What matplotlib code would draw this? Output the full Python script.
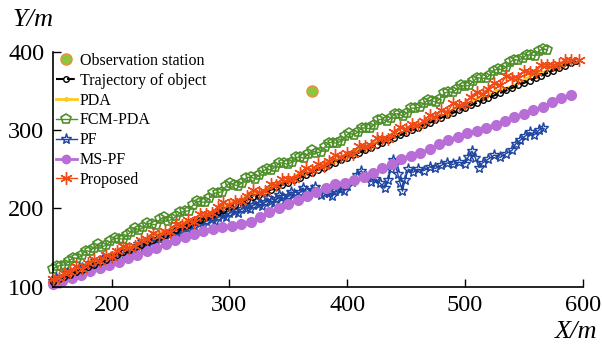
import numpy as np
import matplotlib.pyplot as plt

# observation station
station_x = [370]
station_y = [350]

# trajectory of object (sampled every 5 m in x)
traj_x = list(range(150, 595, 5)) + [594]
traj_y = [106.0, 109.2, 112.4, 115.5, 118.7, 121.9, 125.1, 128.2, 131.4, 134.6,
          137.8, 140.9, 144.1, 147.3, 150.5, 153.6, 156.8, 160.0, 163.2, 166.3,
          169.5, 172.7, 175.9, 179.0, 182.2, 185.4, 188.6, 191.7, 194.9, 198.1,
          201.3, 204.4, 207.6, 210.8, 214.0, 217.1, 220.3, 223.5, 226.7, 229.8,
          233.0, 236.2, 239.4, 242.5, 245.7, 248.9, 252.1, 255.2, 258.4, 261.6,
          264.8, 267.9, 271.1, 274.3, 277.5, 280.6, 283.8, 287.0, 290.2, 293.4,
          296.5, 299.7, 302.9, 306.1, 309.2, 312.4, 315.6, 318.8, 321.9, 325.1,
          328.3, 331.5, 334.6, 337.8, 341.0, 344.2, 347.3, 350.5, 353.7, 356.9,
          360.0, 363.2, 366.4, 369.6, 372.7, 375.9, 379.1, 382.3, 385.4, 388.0]

# PDA
pda_x = list(range(150, 591, 8))
pda_y = [109, 112, 120, 123, 131, 132, 140, 148, 149, 156, 158, 167, 170, 174,
         183, 185, 188, 196, 200, 208, 211, 219, 220, 227, 229, 236, 243, 245,
         252, 259, 261, 265, 274, 276, 283, 287, 295, 296, 303, 305, 314, 317,
         321, 331, 333, 339, 342, 350, 353, 356, 364, 371, 373, 380, 382, 388]

# FCM-PDA
fcm_x = [150, 153.5, 157, 160.5, 164, 167.5, 171, 174.5, 178, 181.5, 185, 188.5,
         192, 195.5, 199, 202.5, 206, 209.5, 213, 216.5, 220, 223.5, 227, 230.5,
         234, 237.5, 241, 244.5, 248, 251.5, 255, 258.5, 262, 265.5, 269, 272.5,
         276, 279.5, 283, 286.5, 290, 293.5, 297, 300.5, 304, 307.5, 311, 314.5,
         318, 321.5, 325, 328.5, 332, 335.5, 339, 342.5, 346, 349.5, 353, 356.5,
         360, 363.5, 367, 370.5, 374, 377.5, 381, 384.5, 388, 391.5, 395, 398.5,
         402, 405.5, 409, 412.5, 416, 419.5, 423, 426.5, 430, 433.5, 437, 440.5,
         444, 447.5, 451, 454.5, 458, 461.5, 465, 468.5, 472, 475.5, 479, 482.5,
         486, 489.5, 493, 496.5, 500, 503.5, 507, 510.5, 514, 517.5, 521, 524.5,
         528, 531.5, 535, 538.5, 542, 545.5, 549, 552.5, 556, 559.5, 563, 566.5,
         570]
fcm_y = [122, 126, 127, 128, 133, 137, 136, 140, 146, 145, 150, 154,
         151, 153, 158, 162, 161, 161, 166, 170, 175, 172, 176, 181,
         180, 179, 186, 189, 184, 186, 190, 195, 196, 197, 204, 209,
         208, 208, 213, 219, 220, 221, 228, 233, 230, 229, 233, 239,
         240, 238, 242, 248, 250, 249, 253, 258, 258, 256, 259, 265,
         265, 264, 270, 274, 271, 272, 278, 284, 284, 283, 286, 292,
         296, 294, 297, 303, 302, 302, 307, 313, 314, 311, 315, 321,
         320, 318, 322, 328, 328, 329, 334, 338, 337, 336, 340, 347,
         349, 348, 352, 357, 356, 357, 362, 367, 366, 366, 370, 376,
         378, 377, 380, 387, 390, 389, 392, 396, 396, 395, 401, 404,
         402]

# PF
pf_x = [150, 152.5, 155, 157.5, 160, 162.5, 165, 167.5, 170, 172.5, 175, 177.5,
        180, 182.5, 185, 187.5, 190, 192.5, 195, 197.5, 200, 202.5, 205, 207.5,
        210, 212.5, 215, 217.5, 220, 222.5, 225, 227.5, 230, 232.5, 235, 237.5,
        240, 242.5, 245, 247.5, 250, 252.5, 255, 257.5, 260, 262.5, 265, 267.5,
        270, 272.5, 275, 277.5, 280, 282.5, 285, 287.5, 290, 292.5, 295, 297.5,
        300, 302.5, 305, 307.5, 310, 312.5, 315, 317.5, 320, 322.5, 325, 327.5,
        330, 332.5, 335, 337.5, 340, 342.5, 345, 347.5, 350, 352.5, 355, 357.5,
        360, 362.5, 365, 367.5, 370, 372.5, 375, 377.5, 380, 382.5, 385, 387.5,
        390, 392.5, 395, 397.5, 400, 404, 408, 412, 416, 420, 424, 428, 432,
        435, 437, 439, 441, 443, 445, 447, 449, 452, 456, 460, 465, 470, 475,
        480, 485, 490, 495, 500, 503, 506, 509, 512, 515, 520, 525, 530, 535,
        540, 543, 547, 551, 555, 559, 563, 566]
pf_y = [107, 111, 110, 109, 113, 118, 117, 115, 119, 124, 124, 122,
        126, 130, 129, 128, 133, 137, 135, 134, 138, 142, 140, 139,
        144, 148, 146, 145, 150, 154, 152, 151, 156, 160, 158, 157,
        161, 166, 164, 162, 167, 171, 169, 168, 173, 177, 175, 173,
        178, 183, 181, 179, 184, 189, 186, 184, 189, 194, 191, 189,
        194, 199, 196, 194, 199, 204, 201, 199, 204, 209, 205, 203,
        208, 213, 209, 207, 212, 217, 214, 211, 216, 221, 218, 215,
        221, 226, 222, 218, 223, 227, 222, 217, 220, 224, 219, 216,
        222, 226, 225, 222, 228, 234, 243, 248, 240, 234, 238, 232, 226,
        236, 250, 262, 256, 244, 232, 222, 236, 250, 246, 250, 248, 253, 251,
        255, 258, 256, 259, 257, 266, 273, 264, 252, 258, 263, 268, 265, 270,
        274, 282, 287, 292, 297, 294, 300, 303]

# MS-PF
mspf_x = list(range(150, 591, 8))
mspf_y = [104, 107, 111, 115, 120, 124, 128, 132, 136, 141, 145, 150, 154, 159,
          163, 167, 171, 174, 176, 178, 180, 183, 189, 195, 201, 206, 211, 216,
          221, 226, 231, 233, 236, 240, 245, 251, 257, 263, 267, 271, 276, 282,
          287, 291, 296, 299, 303, 307, 311, 316, 321, 325, 330, 336, 341, 345]

# Proposed
prop_x = list(range(150, 595, 5)) + [597]
prop_y = [110, 111, 118, 119, 127, 123, 130, 135, 133, 141, 138, 145, 152, 150,
          152, 160, 161, 169, 165, 171, 170, 180, 179, 185, 183, 193, 193, 194,
          202, 208, 204, 210, 209, 216, 223, 221, 222, 231, 230, 238, 238, 237,
          245, 252, 249, 256, 254, 260, 268, 266, 271, 270, 279, 279, 281, 290,
          290, 289, 297, 304, 301, 308, 306, 312, 319, 317, 325, 323, 334, 332,
          333, 342, 349, 346, 353, 360, 357, 369, 367, 366, 375, 374, 374, 383,
          383, 383, 384, 390, 389, 390]

serif = 'Liberation Serif'

fig = plt.figure(figsize=(6.02, 3.47), dpi=100)
ax = fig.add_axes([0.0875, 0.1738, 0.8804, 0.6772])

ax.plot(station_x, station_y, 'o', ls='none', ms=8, mfc='#8cc63e', mec='#f08c3a',
        mew=1.0, label='Observation station', zorder=6, clip_on=False)
ax.plot(traj_x, traj_y, '--', color='black', lw=1.5, marker='o', ms=4, mfc='none',
        mec='black', mew=1.0, label='Trajectory of object', zorder=3, clip_on=False)
ax.plot(pda_x, pda_y, '-', color='#ffc81e', lw=2.0, marker='.', ms=5,
        label='PDA', zorder=2.5, clip_on=False)
ax.plot(fcm_x, fcm_y, '-', color='#4e8f2a', lw=1.0, marker='p', ms=7, mfc='none',
        mew=1.2, label='FCM-PDA', zorder=2, clip_on=False)
ax.plot(pf_x, pf_y, '-', color='#1f45a0', lw=1.0, marker='*', ms=8, mfc='none',
        mew=1.0, label='PF', zorder=2, clip_on=False)
ax.plot(mspf_x, mspf_y, '-', color='#b86ed6', lw=2.0, marker='o', ms=7,
        label='MS-PF', zorder=2.2, clip_on=False)
ax.plot(prop_x, prop_y, '-', color='#f04a16', lw=1.0, marker=(6, 2, 0), ms=9,
        mew=1.0, label='Proposed', zorder=4, clip_on=False)

ax.set_xlim(150, 600)
ax.set_ylim(100, 400)
ax.set_xticks([200, 300, 400, 500, 600])
ax.set_yticks([100, 200, 300, 400])
ax.spines['top'].set_visible(False)
ax.spines['right'].set_visible(False)
for s in ('left', 'bottom'):
    ax.spines[s].set_linewidth(1.2)
ax.tick_params(direction='in', length=6, width=1.0, pad=6, labelsize=17.5)
for lab in ax.get_xticklabels() + ax.get_yticklabels():
    lab.set_family(serif)

fig.text(12 / 602, 1 - 26 / 347, 'Y/m', family=serif, style='italic',
         fontsize=19, ha='left', va='baseline')
fig.text(597 / 602, 1 - 338 / 347, 'X/m', family=serif, style='italic',
         fontsize=19, ha='right', va='baseline')

leg = ax.legend(loc='upper left', bbox_to_anchor=(56 / 602, 1 - 53 / 347),
                bbox_transform=fig.transFigure, frameon=False, borderaxespad=0,
                borderpad=0, handlelength=1.3, handletextpad=0.2,
                labelspacing=0.24, prop={'family': serif, 'size': 11.5})
for line in leg.get_lines():
    if line.get_label() == 'MS-PF':
        line.set_markersize(6)

fig.savefig('out.png', dpi=100)
